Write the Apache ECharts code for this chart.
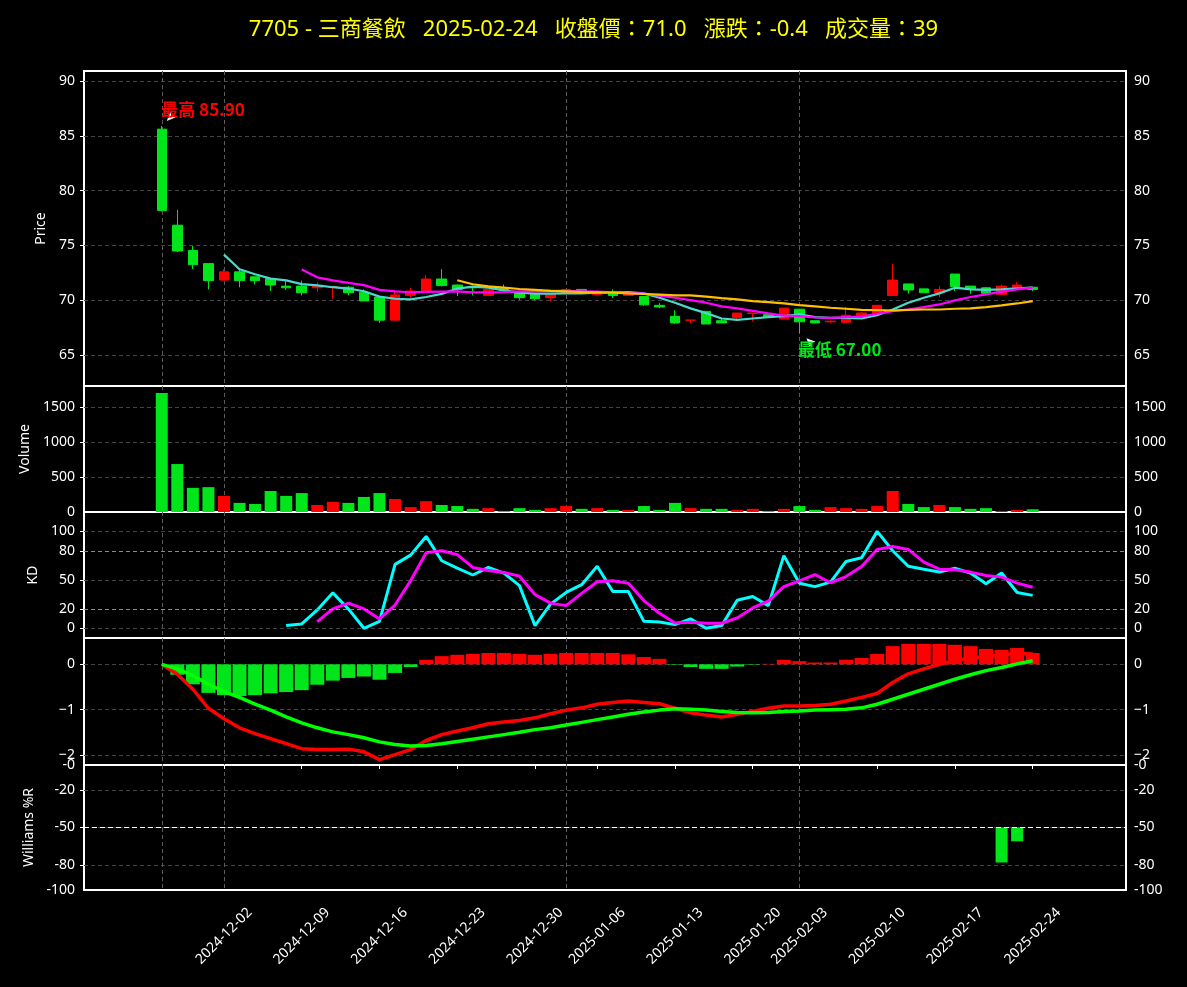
<!DOCTYPE html>
<html>
<head>
<meta charset="utf-8">
<title>7705 三商餐飲</title>
<script src="https://cdn.jsdelivr.net/npm/echarts@6/dist/echarts.min.js"></script>
<style>
  html, body { margin: 0; padding: 0; background: #000; }
  #main { width: 1187px; height: 987px; }
</style>
</head>
<body>
<div id="main"></div>
<script>
const stockCode = '7705';
const stockName = '三商餐飲';

const dates = [
  '2024-11-26', '2024-11-27', '2024-11-28', '2024-11-29',
  '2024-12-02', '2024-12-03', '2024-12-04', '2024-12-05', '2024-12-06',
  '2024-12-09', '2024-12-10', '2024-12-11', '2024-12-12', '2024-12-13',
  '2024-12-16', '2024-12-17', '2024-12-18', '2024-12-19', '2024-12-20',
  '2024-12-23', '2024-12-24', '2024-12-25', '2024-12-26', '2024-12-27',
  '2024-12-30', '2024-12-31', '2025-01-02', '2025-01-03',
  '2025-01-06', '2025-01-07', '2025-01-08', '2025-01-09', '2025-01-10',
  '2025-01-13', '2025-01-14', '2025-01-15', '2025-01-16', '2025-01-17',
  '2025-01-20', '2025-01-21', '2025-01-22',
  '2025-02-03', '2025-02-04', '2025-02-05', '2025-02-06', '2025-02-07',
  '2025-02-10', '2025-02-11', '2025-02-12', '2025-02-13', '2025-02-14',
  '2025-02-17', '2025-02-18', '2025-02-19', '2025-02-20', '2025-02-21',
  '2025-02-24'
];

const opens = [
  85.6, 76.85, 74.55, 73.35, 71.85, 72.6, 72.15, 72.0, 71.3, 71.3,
  71.15, 71.2, 71.2, 70.75, 70.3, 68.2, 70.45, 70.75, 71.95, 71.4,
  71.25, 70.45, 71.1, 70.7, 70.6, 70.25, 70.7, 71.0, 70.55, 70.65,
  70.45, 70.35, 69.55, 68.55, 68.2, 69.0, 68.15, 68.45, 68.8, 68.7,
  68.3, 69.2, 68.15, 68.05, 68.0, 68.55, 68.8, 70.45, 71.5, 71.05,
  70.7, 72.4, 71.3, 71.15, 70.55, 71.2, 71.2
];
const closes = [
  78.2, 74.5, 73.25, 71.8, 72.6, 71.8, 71.8, 71.4, 71.15, 70.7,
  71.35, 71.25, 70.7, 69.95, 68.2, 70.5, 70.85, 71.95, 71.35, 71.0,
  71.15, 71.0, 70.9, 70.25, 70.15, 70.55, 71.0, 70.7, 70.75, 70.45,
  70.65, 69.6, 69.4, 67.95, 68.2, 67.85, 67.95, 68.85, 68.85, 68.5,
  69.3, 68.05, 67.95, 68.1, 68.65, 68.85, 69.55, 71.85, 70.95, 70.7,
  71.0, 71.25, 71.05, 70.65, 71.3, 71.4, 71.0
];
const lows = [
  78.1, 74.4, 72.85, 71.0, 71.85, 71.2, 71.45, 70.85, 70.95, 70.45,
  70.8, 70.15, 70.45, 69.95, 67.95, 68.2, 70.2, 70.75, 71.25, 70.4,
  70.45, 70.4, 70.9, 70.05, 70.0, 69.9, 70.7, 70.65, 70.45, 70.2,
  70.4, 69.5, 69.3, 67.85, 67.9, 67.85, 67.95, 68.15, 68.1, 68.5,
  68.3, 67.0, 67.9, 67.95, 68.0, 68.5, 68.8, 70.45, 70.6, 70.7,
  70.3, 70.85, 70.6, 70.55, 70.55, 71.2, 70.85
];
const highs = [
  85.9, 78.25, 74.95, 73.35, 72.85, 72.85, 72.15, 72.0, 71.75, 71.8,
  71.65, 71.3, 71.3, 71.0, 70.3, 70.9, 71.15, 72.3, 72.85, 71.45,
  71.3, 71.0, 71.45, 70.75, 70.6, 70.6, 71.05, 71.0, 70.8, 71.0,
  70.7, 70.35, 69.75, 69.1, 68.2, 69.0, 68.4, 68.85, 68.85, 68.75,
  69.3, 69.2, 68.15, 68.15, 69.4, 68.9, 69.55, 73.3, 71.5, 71.05,
  71.3, 72.4, 71.3, 71.2, 71.45, 71.65, 71.2
];
const volumes = [
  1700, 685, 345, 355, 230, 130, 115, 300, 230, 270,
  100, 145, 130, 215, 270, 185, 70, 155, 100, 85,
  45, 55, 15, 55, 30, 55, 85, 45, 55, 30,
  30, 85, 30, 130, 55, 45, 45, 30, 45, 15,
  45, 85, 30, 70, 55, 45, 85, 300, 115, 70,
  100, 70, 45, 55, 15, 30, 39
];

const ma5 = [
  null, null, null, null, 74.17, 72.84, 72.38, 71.98, 71.82, 71.48,
  71.36, 71.2, 71.08, 70.83, 70.34, 70.15, 70.09, 70.31, 70.59, 71.08,
  71.25, 71.16, 70.92, 70.7, 70.61, 70.61, 70.64, 70.64, 70.7, 70.73,
  70.76, 70.64, 70.24, 69.79, 69.27, 68.84, 68.35, 68.23, 68.35, 68.47,
  68.56, 68.72, 68.47, 68.41, 68.41, 68.35, 68.65, 69.17, 69.79, 70.24,
  70.64, 71.16, 71.0, 70.95, 71.0, 71.1, 71.16
];
const ma10 = [
  null, null, null, null, null, null, null, null, null, 72.81,
  72.1, 71.82, 71.6, 71.39, 70.96, 70.83, 70.74, 70.77, 70.8, 70.82,
  70.73, 70.73, 70.76, 70.83, 70.83, 70.86, 70.86, 70.83, 70.8, 70.73,
  70.67, 70.61, 70.43, 70.24, 70.03, 69.79, 69.45, 69.27, 69.05, 68.81,
  68.62, 68.56, 68.44, 68.41, 68.47, 68.53, 68.78, 69.02, 69.17, 69.39,
  69.63, 70.0, 70.31, 70.55, 70.8, 71.0, 71.16
];
const ma20 = [
  null, null, null, null, null, null, null, null, null, null,
  null, null, null, null, null, null, null, null, null, 71.83,
  71.47, 71.28, 71.16, 71.04, 70.95, 70.86, 70.83, 70.76, 70.73, 70.7,
  70.64, 70.58, 70.52, 70.46, 70.46, 70.34, 70.21, 70.09, 69.94, 69.85,
  69.72, 69.57, 69.45, 69.33, 69.24, 69.14, 69.11, 69.08, 69.14, 69.17,
  69.17, 69.24, 69.27, 69.39, 69.54, 69.72, 69.94
];

const kValues = [
  null, null, null, null, null, null, null, null, 2.8, 4.5,
  19, 36.6, 20, 0, 7.2, 66, 75.5, 94.8, 69.7, 62,
  55, 62.8, 57, 44, 2.8, 25, 37, 45, 64, 38,
  38, 7.2, 6.6, 3.8, 9.7, 0, 2.8, 29, 32.8, 23.4,
  75, 46.5, 43, 47.6, 69, 72.8, 100, 80, 64, 61,
  58, 62, 57, 46, 57, 37, 34
];
const dValues = [
  null, null, null, null, null, null, null, null, null, null,
  6.9, 20, 25.9, 20, 9.7, 24, 49, 78, 80, 76,
  62.8, 59.7, 57.6, 53.8, 34.8, 26, 23.4, 36, 48, 49,
  46.6, 28.6, 15.5, 5.5, 6.2, 5.2, 5.2, 10.7, 21, 28,
  43, 49, 55.5, 47, 53.4, 63.8, 81.4, 84.5, 81.4, 68.3,
  61, 60.3, 58, 54.5, 52.8, 46.6, 42.4
];

const difValues = [
  0, -0.22, -0.55, -0.97, -1.2, -1.4, -1.53, -1.64, -1.75, -1.86,
  -1.88, -1.88, -1.87, -1.93, -2.1, -1.99, -1.88, -1.68, -1.55, -1.47,
  -1.4, -1.31, -1.27, -1.24, -1.18, -1.09, -1.01, -0.96, -0.88, -0.84,
  -0.81, -0.84, -0.87, -0.97, -1.07, -1.12, -1.16, -1.1, -1.04, -0.97,
  -0.92, -0.92, -0.91, -0.88, -0.81, -0.73, -0.64, -0.4, -0.21, -0.1,
  0.0, 0.08, 0.14, 0.17, 0.21, 0.24, 0.23
];
const deaValues = [
  0, -0.1, -0.25, -0.44, -0.6, -0.73, -0.88, -1.01, -1.16, -1.29,
  -1.4, -1.49, -1.55, -1.62, -1.71, -1.77, -1.8, -1.79, -1.75, -1.7,
  -1.65, -1.6, -1.55, -1.5, -1.44, -1.4, -1.34, -1.28, -1.22, -1.16,
  -1.1, -1.05, -1.01, -0.98, -0.99, -1.01, -1.04, -1.06, -1.07, -1.06,
  -1.04, -1.03, -1.01, -1.0, -0.99, -0.96, -0.88, -0.77, -0.66, -0.55,
  -0.44, -0.33, -0.23, -0.14, -0.07, 0.01, 0.08
];
const histValues = [
  0, -0.23, -0.44, -0.63, -0.68, -0.7, -0.68, -0.64, -0.61, -0.57,
  -0.45, -0.36, -0.3, -0.27, -0.34, -0.19, -0.06, 0.1, 0.18, 0.21,
  0.23, 0.25, 0.25, 0.23, 0.21, 0.23, 0.25, 0.25, 0.25, 0.25,
  0.22, 0.16, 0.12, -0.01, -0.06, -0.1, -0.1, -0.05, -0.01, 0.01,
  0.1, 0.07, 0.04, 0.04, 0.1, 0.14, 0.23, 0.4, 0.45, 0.45,
  0.45, 0.43, 0.4, 0.34, 0.32, 0.36, 0.25
];

const willR = [
  null, null, null, null, null, null, null, null, null, null,
  null, null, null, null, null, null, null, null, null, null,
  null, null, null, null, null, null, null, null, null, null,
  null, null, null, null, null, null, null, null, null, null,
  null, null, null, null, null, null, null, null, null, null,
  null, null, null, null, -78, -61, null
];

// dates that get a vertical grid line
const gridDates = ['2024-11-26', '2024-12-02', '2025-01-02', '2025-02-03'];

const priceTicks = [65, 70, 75, 80, 85, 90];
const volumeTicks = [0, 500, 1000, 1500];
const kdTicks = [0, 20, 50, 80, 100];
const macdTicks = [-2, -1, 0];
const wrTicks = [-100, -80, -50, -20, 0];

const RED = '#ff0000';
const GREEN = '#00e61a';
const PAD_L = 5;
const PAD_R = 6;

let cats = [];
for (let i = 0; i < PAD_L; i++) cats.push('padL' + i);
dates.forEach(d => cats.push(d));
for (let i = 0; i < PAD_R; i++) cats.push('padR' + i);

function isMonday(d) {
  if (d.indexOf('pad') === 0) return false;
  return new Date(d + 'T00:00:00').getDay() === 1;
}

function toPoints(arr) {
  let out = [];
  arr.forEach((v, i) => { if (v !== null) out.push([i + PAD_L, v]); });
  return out;
}

const grids = [
  { top: 71, height: 315 },
  { top: 386, height: 126 },
  { top: 512, height: 126 },
  { top: 638, height: 127 },
  { top: 765, height: 125 }
];

function makeX(idx) {
  let last = idx === grids.length - 1;
  return {
    type: 'category', gridIndex: idx, data: cats, boundaryGap: false,
    axisLine: { show: false },
    axisTick: { show: last, interval: (i, v) => isMonday(v), length: 4, lineStyle: { color: '#fff' } },
    axisLabel: {
      show: last, interval: (i, v) => isMonday(v), rotate: 45,
      align: 'center', verticalAlign: 'middle', margin: 46,
      color: '#fff', fontSize: 14, fontFamily: 'Noto Sans'
    },
    splitLine: { show: true, interval: (i, v) => gridDates.indexOf(v) >= 0, lineStyle: { color: '#5a5a5a', type: [4, 3] } }
  };
}

function makeY(idx, min, max, ticks, name, gap, fmt, right) {
  // split lines / ticks only strictly inside, so the white frame stays solid
  let inner = ticks.filter(t => t > min && t < max);
  return {
    type: 'value', gridIndex: idx, min: min, max: max,
    position: right ? 'right' : 'left',
    name: right ? '' : name, nameLocation: 'middle', nameGap: gap,
    nameTextStyle: { color: '#fff', fontSize: 14, fontFamily: 'Noto Sans' },
    axisLine: { show: false },
    axisTick: { show: !right, length: 4, lineStyle: { color: '#fff' }, customValues: inner },
    axisLabel: { color: '#fff', fontSize: 14, margin: right ? 8 : 9, fontFamily: 'Noto Sans', customValues: ticks, formatter: fmt },
    splitLine: { show: !right, lineStyle: { color: '#444', type: [4, 3] } }
  };
}

const plain = v => String(v);
const minusFmt = v => (v < 0 ? '\u2212' + Math.abs(v) : String(v));
const wrFmt = v => (v === 0 ? '-0' : String(v));

const axisSpecs = [
  [62.2, 90.9, priceTicks, 'Price', 26, plain],
  [0, 1800, volumeTicks, 'Volume', 30, plain],
  [-10, 120, kdTicks, 'KD', 28, plain],
  [-2.22, 0.58, macdTicks, '', 34, minusFmt],
  [-100, 0, wrTicks, 'Williams %R', 34, wrFmt]
];

let yAxes = [];
axisSpecs.forEach((s, i) => yAxes.push(makeY(i, s[0], s[1], s[2], s[3], s[4], s[5], false)));
axisSpecs.forEach((s, i) => yAxes.push(makeY(i, s[0], s[1], s[2], s[3], s[4], s[5], true)));

let hiVal = Math.max(...highs);
let hiIdx = highs.indexOf(hiVal);
let loVal = Math.min(...lows);
let loIdx = lows.indexOf(loVal);

let last = dates.length - 1;
let change = (closes[last] - closes[last - 1]).toFixed(1);
let titleText = stockCode + ' - ' + stockName + '   ' + dates[last] +
  '   收盤價：' + closes[last].toFixed(1) + '   漲跌：' + change + '   成交量：' + volumes[last];

let candleData = dates.map((d, i) => [i + PAD_L, opens[i], closes[i], lows[i], highs[i]]);
let volData = volumes.map((v, i) => ({
  value: [i + PAD_L, v],
  itemStyle: { color: closes[i] >= opens[i] ? RED : GREEN }
}));
let histData = histValues.map((v, i) => ({
  value: [i + PAD_L, v],
  itemStyle: { color: v >= 0 ? RED : GREEN }
}));
let wrBase = [];
let wrBar = [];
willR.forEach((v, i) => {
  if (v !== null) {
    wrBase.push([i + PAD_L, -50]);
    wrBar.push([i + PAD_L, v + 50]);
  }
});

const annoFont = { fontSize: 17, fontWeight: 'bold', fontFamily: 'Noto Sans CJK TC' };

let option = {
  backgroundColor: '#000',
  animation: false,
  title: {
    text: titleText, left: 'center', top: 14,
    textStyle: { color: '#ffff00', fontSize: 22, fontWeight: 'normal', fontFamily: "'Noto Sans', 'Noto Sans CJK TC'" }
  },
  grid: grids.map(g => ({
    left: 84, right: 61, top: g.top, height: g.height,
    show: true, borderColor: '#fff', borderWidth: 2, backgroundColor: 'transparent'
  })),
  xAxis: grids.map((g, i) => makeX(i)),
  yAxis: yAxes,
  series: [
    {
      name: 'K線', type: 'candlestick', xAxisIndex: 0, yAxisIndex: 0,
      data: candleData, encode: { x: 0, y: [1, 2, 3, 4] },
      barWidth: 10,
      itemStyle: { color: RED, color0: GREEN, borderColor: RED, borderColor0: GREEN, borderWidth: 1 },
      markPoint: {
        silent: true, animation: false,
        data: [
          { coord: [hiIdx + PAD_L, hiVal], symbol: 'arrow', symbolSize: [6, 9], symbolRotate: 135, symbolOffset: [5, -5], itemStyle: { color: '#fff' }, label: { show: false } },
          { coord: [hiIdx + PAD_L, hiVal], symbol: 'circle', symbolSize: 1, itemStyle: { color: 'transparent' },
            label: Object.assign({ show: true, position: 'right', distance: 0, offset: [-1, -16], formatter: '最高 ' + hiVal.toFixed(2), color: RED }, annoFont) },
          { coord: [loIdx + PAD_L, loVal], symbol: 'arrow', symbolSize: [6, 9], symbolRotate: 45, symbolOffset: [7, 5], itemStyle: { color: '#fff' }, label: { show: false } },
          { coord: [loIdx + PAD_L, loVal], symbol: 'circle', symbolSize: 1, itemStyle: { color: 'transparent' },
            label: Object.assign({ show: true, position: 'right', distance: 0, offset: [-2, 16], formatter: '最低 ' + loVal.toFixed(2), color: GREEN }, annoFont) }
        ]
      }
    },
    { name: 'MA5', type: 'line', xAxisIndex: 0, yAxisIndex: 0, data: toPoints(ma5), symbol: 'none', z: 3, lineStyle: { color: '#48d8cc', width: 2.2 } },
    { name: 'MA10', type: 'line', xAxisIndex: 0, yAxisIndex: 0, data: toPoints(ma10), symbol: 'none', z: 3, lineStyle: { color: '#ff00ff', width: 2.2 } },
    { name: 'MA20', type: 'line', xAxisIndex: 0, yAxisIndex: 0, data: toPoints(ma20), symbol: 'none', z: 3, lineStyle: { color: '#ffc000', width: 2.2 } },
    { name: 'Volume', type: 'bar', xAxisIndex: 1, yAxisIndex: 1, data: volData, barWidth: 12 },
    {
      name: 'K', type: 'line', xAxisIndex: 2, yAxisIndex: 2, data: toPoints(kValues), symbol: 'none', z: 3,
      lineStyle: { color: '#00ffff', width: 3 },
      markLine: {
        silent: true, symbol: 'none', label: { show: false },
        lineStyle: { color: '#8a8a8a', type: [4, 3], width: 1 },
        data: [{ yAxis: 20 }, { yAxis: 80 }]
      }
    },
    { name: 'D', type: 'line', xAxisIndex: 2, yAxisIndex: 2, data: toPoints(dValues), symbol: 'none', z: 4, lineStyle: { color: '#ff00ff', width: 3 } },
    { name: 'OSC', type: 'bar', xAxisIndex: 3, yAxisIndex: 3, data: histData, barWidth: 14 },
    { name: 'DIF', type: 'line', xAxisIndex: 3, yAxisIndex: 3, data: toPoints(difValues), symbol: 'none', z: 3, lineStyle: { color: '#ff0000', width: 3.5 } },
    { name: 'MACD', type: 'line', xAxisIndex: 3, yAxisIndex: 3, data: toPoints(deaValues), symbol: 'none', z: 4, lineStyle: { color: '#00ff00', width: 3.5 } },
    {
      name: 'WR base', type: 'bar', xAxisIndex: 4, yAxisIndex: 4, stack: 'wr', data: wrBase, barWidth: 12,
      itemStyle: { color: 'transparent' },
      markLine: {
        silent: true, symbol: 'none', label: { show: false },
        lineStyle: { color: '#fff', type: [5, 3], width: 1.2 },
        data: [{ yAxis: -50 }]
      }
    },
    { name: 'Williams %R', type: 'bar', xAxisIndex: 4, yAxisIndex: 4, stack: 'wr', data: wrBar, barWidth: 12, itemStyle: { color: GREEN } }
  ]
};

let myChart = echarts.init(document.getElementById('main'));
myChart.setOption(option);
window.addEventListener('resize', function () {
  myChart.resize();
});
</script>
</body>
</html>
